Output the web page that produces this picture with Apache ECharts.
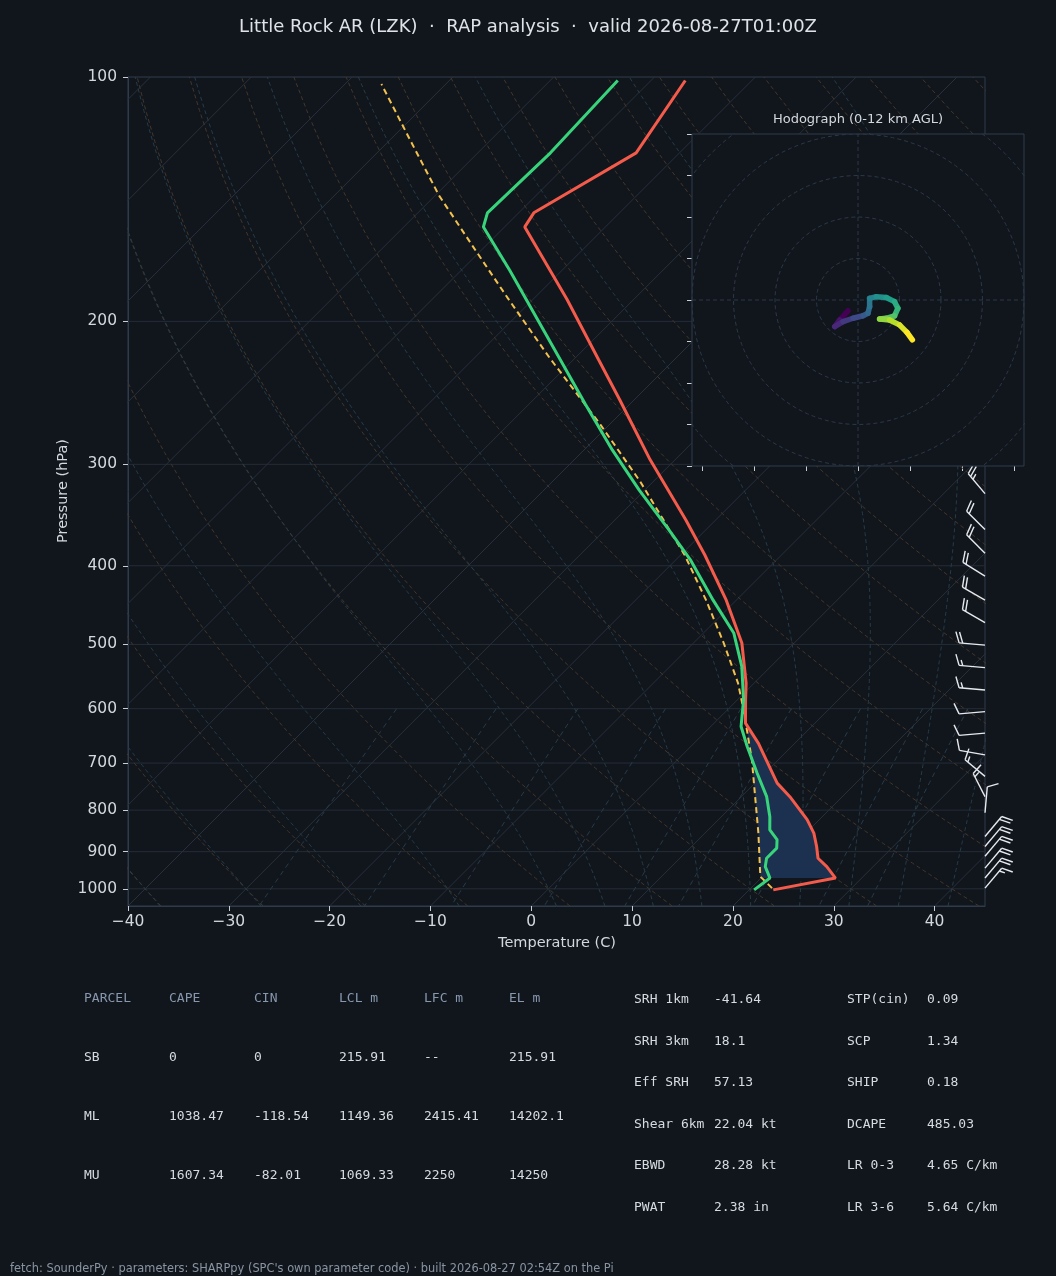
<!DOCTYPE html>
<html>
<head>
<meta charset="utf-8">
<script src="https://cdn.jsdelivr.net/npm/echarts@6/dist/echarts.min.js"></script>
<style>
  html, body { margin: 0; padding: 0; background: #11161d; }
  #chart { width: 1056px; height: 1276px; }
</style>
</head>
<body>
<div id="chart"></div>
<script>
// ---- sounding ----
var tempP = [1003, 970, 939, 917, 887, 854, 822, 770, 741, 662, 625, 585, 558, 498, 441, 388, 351, 296, 250, 223, 188, 173, 153, 147, 124, 101];
var tempC = [22.4, 27.4, 25.4, 23.7, 22.4, 20.8, 18.8, 14.8, 12.2, 6.4, 3.1, 0.8, -0.8, -5.2, -11.0, -17.6, -23.0, -32.5, -41.4, -47.5, -56.6, -61.2, -68.0, -68.5, -64.3, -66.6];

var dewP = [1003, 970, 939, 917, 891, 870, 846, 815, 770, 720, 668, 631, 585, 532, 484, 441, 393, 361, 323, 288, 253, 223, 173, 153, 147, 124, 101];
var dewC = [20.5, 20.9, 19.3, 18.6, 18.6, 17.8, 16.1, 14.8, 12.5, 9.2, 5.6, 3.0, 0.6, -2.9, -7.0, -12.3, -18.6, -23.7, -30.5, -37.2, -44.4, -51.3, -65.2, -72.1, -73.1, -72.8, -73.3];

var parcelP = [998, 966, 854, 777, 694, 602, 558, 498, 441, 388, 315, 268, 222, 187, 162, 140, 120, 102];
var parcelC = [22.1, 19.8, 15.3, 11.7, 7.4, 1.6, -1.6, -7.0, -13.0, -19.6, -31.3, -40.9, -52.5, -62.7, -71.1, -79.6, -87.8, -96.4];

// shaded layer between temperature and parcel (hPa)
var shadeTop = 625, shadeBottom = 970;

// wind barbs (hPa, direction deg, speed kt)
var barbP = [326, 361, 386, 412, 441, 470, 501, 534, 569, 605, 643, 684, 727, 770, 806, 862, 887, 912, 943, 970, 998];
var barbDir = [320, 315, 315, 302, 300, 300, 275, 275, 275, 265, 265, 280, 310, 333, 5, 40, 40, 40, 40, 40, 40];
var barbSpd = [25, 20, 20, 20, 20, 20, 20, 15, 15, 10, 10, 10, 15, 15, 10, 20, 20, 20, 20, 20, 15];

// hodograph trace (kt), surface to 12 km
var hodoU = [-2.4, -4.4, -5.6, -3.6, -1.2, 1.2, 2.4, 2.8, 2.8, 4.4, 6.8, 8.8, 9.6, 8.8, 6.8, 5.2, 7.6, 10.0, 11.8, 13.1];
var hodoV = [-2.6, -4.8, -6.4, -5.2, -4.4, -3.8, -3.2, -1.6, 0.4, 0.8, 0.6, -0.4, -2.0, -3.8, -4.4, -4.6, -4.8, -6.0, -7.8, -9.6];
var hodoRings = [10, 20, 30, 40, 50];

// axis ticks
var pTicks = [100, 200, 300, 400, 500, 600, 700, 800, 900, 1000];
var tTicks = [-40, -30, -20, -10, 0, 10, 20, 30, 40];
var hodoYTicks = [-40, -30, -20, -10, 0, 10, 20, 30, 40];
var hodoXTicks = [-37.6, -25.1, -12.5, 0, 12.5, 25.1, 37.6];

// background lines of the diagram
var isotherms = [-120, -110, -100, -90, -80, -70, -60, -50, -40, -30, -20, -10, 0, 10, 20, 30, 40];
var dryT0 = [];
for (var d = -40; d <= 240; d += 10) dryT0.push(d);
var moistT0 = [-40, -30, -20, -10, 0, 5, 10, 15, 20, 25, 30, 35, 40, 45];
var mixRatios = [0.0004, 0.001, 0.002, 0.004, 0.007, 0.01, 0.016, 0.024, 0.032];

// table text
var parcelHdr = ['PARCEL', 'CAPE', 'CIN', 'LCL m', 'LFC m', 'EL m'];
var parcelRows = [
  ['SB', '0', '0', '215.91', '--', '215.91'],
  ['ML', '1038.47', '-118.54', '1149.36', '2415.41', '14202.1'],
  ['MU', '1607.34', '-82.01', '1069.33', '2250', '14250']
];
var paramsL = [['SRH 1km', '-41.64'], ['SRH 3km', '18.1'], ['Eff SRH', '57.13'], ['Shear 6km', '22.04 kt'], ['EBWD', '28.28 kt'], ['PWAT', '2.38 in']];
var paramsR = [['STP(cin)', '0.09'], ['SCP', '1.34'], ['SHIP', '0.18'], ['DCAPE', '485.03'], ['LR 0-3', '4.65 C/km'], ['LR 3-6', '5.64 C/km']];

// ---- skew-T coordinates ----
var PBOT = 1050, PTOP = 100;
var LOGB = Math.log10(PBOT), LOGT = Math.log10(PTOP);
var SKEW = 829 / (857 / 85); // degrees of x shift across full height (45 deg on screen)

function sx(t, p) { return t + SKEW * (LOGB - Math.log10(p)) / (LOGB - LOGT); }
function pt(t, p) { return [sx(t, p), Math.log10(p)]; }

function profile(ps, ts) {
  var out = [];
  for (var i = 0; i < ps.length; i++) out.push(pt(ts[i], ps[i]));
  return out;
}

function interpAt(ps, ts, p) {
  for (var i = 0; i < ps.length - 1; i++) {
    if ((ps[i] >= p && ps[i + 1] <= p)) {
      var a = Math.log(ps[i]), b = Math.log(ps[i + 1]);
      var f = (Math.log(p) - a) / (b - a);
      return ts[i] + f * (ts[i + 1] - ts[i]);
    }
  }
  return ts[ts.length - 1];
}

function dryCurve(t0) {
  var out = [];
  for (var p = PBOT; p >= PTOP; p -= 10) {
    out.push(pt((t0 + 273.15) * Math.pow(p / 1000, 0.28571) - 273.15, p));
  }
  return out;
}

function moistRate(p, T) {
  var Rd = 287.04749, Cp = 1004.666, Lv = 2.50084e6, eps = 0.621957;
  var tc = T - 273.15;
  var es = 6.112 * Math.exp(17.67 * tc / (tc + 243.5));
  var rs = eps * es / (p - es);
  return (1 / p) * (Rd * T + Lv * rs) / (Cp + (Lv * Lv * rs * eps) / (Rd * T * T));
}

function moistCurve(t0) {
  var up = [], down = [];
  function run(dp, pEnd, arr) {
    var p = 1000, T = t0 + 273.15;
    while ((dp < 0 && p > pEnd) || (dp > 0 && p < pEnd)) {
      var k1 = moistRate(p, T);
      var k2 = moistRate(p + dp / 2, T + dp / 2 * k1);
      var k3 = moistRate(p + dp / 2, T + dp / 2 * k2);
      var k4 = moistRate(p + dp, T + dp * k3);
      T += dp / 6 * (k1 + 2 * k2 + 2 * k3 + k4);
      p += dp;
      arr.push(pt(T - 273.15, p));
    }
  }
  run(5, PBOT, down);
  run(-5, PTOP, up);
  return down.reverse().concat([pt(t0, 1000)]).concat(up);
}

function mixCurve(w) {
  var out = [];
  for (var p = 600; p <= PBOT; p += 10) {
    var e = p * w / (0.621957 + w);
    var a = Math.log(e / 6.112);
    out.push(pt(243.5 * a / (17.67 - a), p));
  }
  return out;
}

function bgLine(data, color, type, z) {
  return {
    type: 'line', xAxisIndex: 0, yAxisIndex: 0, data: data,
    symbol: 'none', silent: true, animation: false, clip: true, z: z || 1,
    lineStyle: { color: color, width: 1, type: type }
  };
}

var series = [];

pTicks.forEach(function (p) {
  series.push(bgLine([[-40, Math.log10(p)], [45, Math.log10(p)]], '#242c37', 'solid'));
});
isotherms.forEach(function (t) {
  series.push(bgLine([pt(t, PBOT), pt(t, PTOP)], '#28303b', 'solid'));
});
dryT0.forEach(function (t) {
  series.push(bgLine(dryCurve(t), '#44372a', [4, 3]));
});
moistT0.forEach(function (t) {
  series.push(bgLine(moistCurve(t), '#273c47', [4, 3]));
});
mixRatios.forEach(function (w) {
  series.push(bgLine(mixCurve(w), '#293c49', [5, 4]));
});

// shaded layer between parcel and temperature
var shadePoly = [];
shadePoly.push(pt(interpAt(tempP, tempC, shadeTop), shadeTop));
for (var i = tempP.length - 1; i >= 0; i--) {
  if (tempP[i] > shadeTop && tempP[i] < shadeBottom) shadePoly.push(pt(tempC[i], tempP[i]));
}
shadePoly.push(pt(interpAt(tempP, tempC, shadeBottom), shadeBottom));
shadePoly.push(pt(interpAt(parcelP, parcelC, shadeBottom), shadeBottom));
for (var j = 0; j < parcelP.length; j++) {
  if (parcelP[j] < shadeBottom && parcelP[j] > shadeTop) shadePoly.push(pt(parcelC[j], parcelP[j]));
}
shadePoly.push(pt(interpAt(parcelP, parcelC, shadeTop), shadeTop));

series.push({
  type: 'custom', xAxisIndex: 0, yAxisIndex: 0, silent: true, animation: false, z: 2,
  data: [[0, 2.5]],
  renderItem: function (params, api) {
    return {
      type: 'polygon',
      shape: { points: shadePoly.map(function (q) { return api.coord(q); }) },
      style: { fill: '#1c3150' }
    };
  }
});

series.push({
  type: 'line', name: 'parcel', xAxisIndex: 0, yAxisIndex: 0, data: profile(parcelP, parcelC),
  symbol: 'none', silent: true, animation: false, z: 4,
  lineStyle: { color: '#f2c14e', width: 2, type: [6, 4] }
});
series.push({
  type: 'line', name: 'temperature', xAxisIndex: 0, yAxisIndex: 0, data: profile(tempP, tempC),
  symbol: 'none', silent: true, animation: false, z: 5,
  lineStyle: { color: '#f45b4b', width: 3 }
});
series.push({
  type: 'line', name: 'dewpoint', xAxisIndex: 0, yAxisIndex: 0, data: profile(dewP, dewC),
  symbol: 'none', silent: true, animation: false, z: 6,
  lineStyle: { color: '#38d47c', width: 3 }
});

// wind barbs on the right edge
series.push({
  type: 'custom', xAxisIndex: 0, yAxisIndex: 0, silent: true, animation: false, z: 6, clip: false,
  data: barbP.map(function (p, i) { return [45, Math.log10(p), barbDir[i], barbSpd[i]]; }),
  renderItem: function (params, api) {
    var base = api.coord([api.value(0), api.value(1)]);
    var dir = api.value(2) * Math.PI / 180, spd = api.value(3);
    var L = 26, H = 0.42 * L, W2 = 0.16 * L, sp = 0.14 * L;
    var ux = Math.sin(dir), uy = -Math.cos(dir);
    var px = Math.sin(dir + Math.PI / 2), py = -Math.cos(dir + Math.PI / 2);
    var kids = [];
    var sty = { stroke: '#e6eaef', lineWidth: 1.4, fill: null };
    kids.push({ type: 'line', shape: { x1: base[0], y1: base[1], x2: base[0] + ux * L, y2: base[1] + uy * L }, style: sty });
    var s = Math.round(spd / 5) * 5;
    var full = Math.floor(s / 10), half = (s % 10) >= 5 ? 1 : 0;
    var pos = L;
    if (full === 0 && half) pos -= 1.5 * sp;
    for (var k = 0; k < full; k++) {
      var sx0 = base[0] + ux * pos, sy0 = base[1] + uy * pos;
      kids.push({ type: 'line', shape: { x1: sx0, y1: sy0, x2: sx0 + px * H + ux * W2, y2: sy0 + py * H + uy * W2 }, style: sty });
      pos -= sp;
    }
    if (half) {
      var hx = base[0] + ux * pos, hy = base[1] + uy * pos;
      kids.push({ type: 'line', shape: { x1: hx, y1: hy, x2: hx + px * H / 2 + ux * W2 / 2, y2: hy + py * H / 2 + uy * W2 / 2 }, style: sty });
    }
    return { type: 'group', children: kids };
  }
});

// ---- hodograph inset ----
series.push({
  type: 'custom', xAxisIndex: 1, yAxisIndex: 1, silent: true, animation: false, z: 10,
  data: [[0, 0]],
  renderItem: function (params) {
    var cs = params.coordSys;
    return {
      type: 'rect',
      shape: { x: cs.x, y: cs.y, width: cs.width, height: cs.height },
      style: { fill: '#11161d', stroke: '#2f3b4b', lineWidth: 1 }
    };
  }
});
hodoRings.forEach(function (r) {
  var ring = [];
  for (var a = 0; a <= 360; a += 3) ring.push([r * Math.cos(a * Math.PI / 180), r * Math.sin(a * Math.PI / 180)]);
  series.push({
    type: 'line', xAxisIndex: 1, yAxisIndex: 1, data: ring, symbol: 'none', silent: true,
    animation: false, clip: true, z: 11, lineStyle: { color: '#2c3847', width: 1, type: [4, 3] }
  });
});
[[[-40, 0], [40, 0]], [[0, -40], [0, 40]]].forEach(function (seg) {
  series.push({
    type: 'line', xAxisIndex: 1, yAxisIndex: 1, data: seg, symbol: 'none', silent: true,
    animation: false, z: 11, lineStyle: { color: '#2c3847', width: 1, type: [4, 3] }
  });
});

var viridis = ['#440154', '#482878', '#3e4989', '#31688e', '#26828e', '#1f9e89', '#35b779', '#6ece58', '#b5de2b', '#fde725'];
function viridisAt(f) {
  var x = f * (viridis.length - 1), i0 = Math.floor(x), i1 = Math.min(i0 + 1, viridis.length - 1), t = x - i0;
  function rgb(h) { return [parseInt(h.substr(1, 2), 16), parseInt(h.substr(3, 2), 16), parseInt(h.substr(5, 2), 16)]; }
  var a = rgb(viridis[i0]), b = rgb(viridis[i1]);
  return 'rgb(' + Math.round(a[0] + (b[0] - a[0]) * t) + ',' + Math.round(a[1] + (b[1] - a[1]) * t) + ',' + Math.round(a[2] + (b[2] - a[2]) * t) + ')';
}
var hodoSegs = [];
for (var h = 1; h < hodoU.length; h++) {
  hodoSegs.push([hodoU[h - 1], hodoV[h - 1], hodoU[h], hodoV[h], (h - 1) / (hodoU.length - 2)]);
}
series.push({
  type: 'custom', xAxisIndex: 1, yAxisIndex: 1, silent: true, animation: false, z: 12,
  encode: { x: [0, 2], y: [1, 3] },
  data: hodoSegs,
  renderItem: function (params, api) {
    var a = api.coord([api.value(0), api.value(1)]);
    var b = api.coord([api.value(2), api.value(3)]);
    return {
      type: 'line',
      shape: { x1: a[0], y1: a[1], x2: b[0], y2: b[1] },
      style: { stroke: viridisAt(api.value(4)), lineWidth: 5.5, lineCap: 'round' }
    };
  }
});

// ---- text ----
var FONT = '"DejaVu Sans", sans-serif';
var MONO = '"DejaVu Sans Mono", monospace';
function txt(x, y, s, color, font, align, rot) {
  return {
    type: 'text', x: x, y: y, rotation: rot || 0, silent: true, z: 50,
    style: { text: s, fill: color, font: font, align: align || 'left', verticalAlign: 'middle', textAlign: align || 'left', textVerticalAlign: 'middle' }
  };
}
var graphics = [];
graphics.push(txt(528, 27, 'Little Rock AR (LZK)  \u00b7  RAP analysis  \u00b7  valid 2026-08-27T01:00Z', '#dfe3e8', '18px ' + FONT, 'center'));
graphics.push(txt(63, 491, 'Pressure (hPa)', '#d3d8de', '14.5px ' + FONT, 'center', Math.PI / 2));
graphics.push(txt(557, 943, 'Temperature (C)', '#d3d8de', '14.5px ' + FONT, 'center'));
graphics.push(txt(858, 120, 'Hodograph (0-12 km AGL)', '#d3d8de', '13px ' + FONT, 'center'));

var colX = [84, 169, 254, 339, 424, 509];
parcelHdr.forEach(function (s, c) { graphics.push(txt(colX[c], 999, s, '#8797ad', '13px ' + MONO)); });
parcelRows.forEach(function (row, r) {
  row.forEach(function (s, c) { graphics.push(txt(colX[c], 1058 + r * 59, s, '#d6dbe1', '13px ' + MONO)); });
});
paramsL.forEach(function (row, r) {
  graphics.push(txt(634, 1000 + r * 41.5, row[0], '#d6dbe1', '13px ' + MONO));
  graphics.push(txt(714, 1000 + r * 41.5, row[1], '#d6dbe1', '13px ' + MONO));
});
paramsR.forEach(function (row, r) {
  graphics.push(txt(847, 1000 + r * 41.5, row[0], '#d6dbe1', '13px ' + MONO));
  graphics.push(txt(927, 1000 + r * 41.5, row[1], '#d6dbe1', '13px ' + MONO));
});
graphics.push(txt(10, 1269, 'fetch: SounderPy \u00b7 parameters: SHARPpy (SPC\'s own parameter code) \u00b7 built 2026-08-27 02:54Z on the Pi', '#8a94a1', '11.4px ' + FONT));

var tickStyle = { color: '#c9cfd6', width: 1 };
var chart = echarts.init(document.getElementById('chart'), null, { renderer: 'canvas' });
chart.setOption({
  backgroundColor: '#11161d',
  animation: false,
  textStyle: { fontFamily: 'DejaVu Sans' },
  grid: [
    { left: 128, top: 77, width: 857, height: 829, show: true, borderColor: '#2f3b4b', borderWidth: 1, backgroundColor: 'transparent' },
    { left: 692, top: 134, width: 332, height: 332, show: false }
  ],
  xAxis: [
    {
      gridIndex: 0, type: 'value', min: -40, max: 45,
      axisLine: { show: true, onZero: false, lineStyle: { color: '#2f3b4b' } },
      axisTick: { show: true, customValues: tTicks, length: 5, lineStyle: tickStyle },
      axisLabel: {
        customValues: tTicks, color: '#d3d8de', fontSize: 15.5, margin: 8,
        formatter: function (v) { return String(v).replace('-', '\u2212'); }
      },
      splitLine: { show: false }
    },
    {
      gridIndex: 1, type: 'value', min: -40, max: 40,
      axisLine: { show: false, onZero: false },
      axisTick: { show: true, customValues: hodoXTicks, length: 5, lineStyle: tickStyle },
      axisLabel: { show: false },
      splitLine: { show: false }
    }
  ],
  yAxis: [
    {
      gridIndex: 0, type: 'value', inverse: true, min: LOGT, max: LOGB,
      axisLine: { show: true, onZero: false, lineStyle: { color: '#2f3b4b' } },
      axisTick: { show: true, customValues: pTicks.map(function (p) { return Math.log10(p); }), length: 5, lineStyle: tickStyle },
      axisLabel: {
        customValues: pTicks.map(function (p) { return Math.log10(p); }), color: '#d3d8de', fontSize: 15.5, margin: 11,
        formatter: function (v) { return String(Math.round(Math.pow(10, v))); }
      },
      splitLine: { show: false }
    },
    {
      gridIndex: 1, type: 'value', min: -40, max: 40,
      axisLine: { show: false, onZero: false },
      axisTick: { show: true, customValues: hodoYTicks, length: 5, lineStyle: tickStyle },
      axisLabel: { show: false },
      splitLine: { show: false }
    }
  ],
  graphic: graphics,
  series: series
});
</script>
</body>
</html>
